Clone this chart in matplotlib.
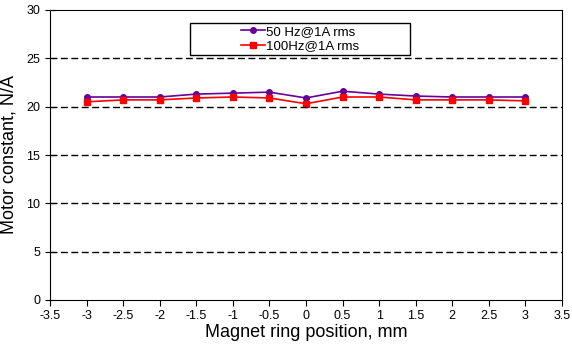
import numpy as np
import matplotlib.pyplot as plt
from matplotlib.patches import Rectangle

plt.rcParams['font.family'] = ['Liberation Sans', 'DejaVu Sans']

# Données
position = [-3, -2.5, -2, -1.5, -1, -0.5, 0, 0.5, 1, 1.5, 2, 2.5, 3]
k_50hz = [21.0, 21.0, 21.0, 21.3, 21.4, 21.5, 20.9, 21.6, 21.3, 21.1, 21.0, 21.0, 21.0]
k_100hz = [20.5, 20.7, 20.7, 20.9, 21.0, 20.9, 20.3, 21.0, 21.0, 20.7, 20.7, 20.7, 20.6]
xticks = np.arange(-3.5, 3.51, 0.5)
yticks = np.arange(0, 31, 5)

fig = plt.figure(figsize=(5.72, 3.49), dpi=100)
ax = fig.add_axes([50 / 572, 49 / 349, 512 / 572, 290 / 349])

ax.plot(position, k_50hz, color='#660099', marker='o', markersize=4, lw=1.2,
        label='50 Hz@1A rms')
ax.plot(position, k_100hz, color='#ff0000', marker='s', markersize=4, lw=1.2,
        label='100Hz@1A rms')

ax.set_xlim(-3.5, 3.5)
ax.set_ylim(0, 30)
ax.set_xticks(xticks)
ax.set_xticklabels(['%g' % v for v in xticks])
ax.set_yticks(yticks)
ax.tick_params(direction='out', labelsize=9, length=4)
ax.tick_params(axis='y', direction='inout', length=7)

for v in yticks[1:-1]:
    ax.axhline(v, color='black', ls=(0, (5, 2.5)), lw=1)

ax.set_xlabel('Magnet ring position, mm', fontsize=13, labelpad=1)
ax.set_ylabel('Motor constant, N/A', fontsize=13, labelpad=6)

# cadre de la légende, plus large que son contenu
ax.add_patch(Rectangle((0.273, 0.845), 0.43, 0.11, transform=ax.transAxes,
                       facecolor='white', edgecolor='black', lw=1, zorder=4))
leg = ax.legend(loc='center', bbox_to_anchor=(0.488, 0.9), fontsize=9.5,
                frameon=False, handlelength=1.8, handletextpad=0.1,
                borderpad=0.2, labelspacing=0.15)
leg.set_zorder(5)

fig.savefig('out.png', dpi=100)
